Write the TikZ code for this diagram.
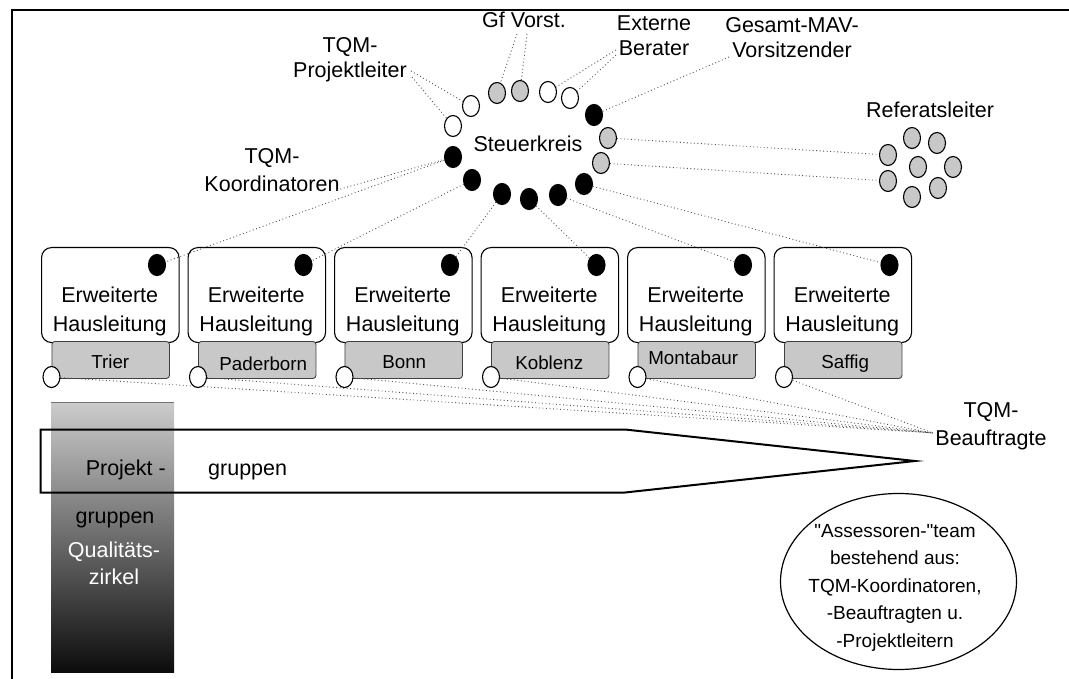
\documentclass[tikz,border=0pt]{standalone}
\usepackage{fontspec}
\setmainfont{Liberation Sans}
\newfontfamily\plainq{Liberation Sans}
\usetikzlibrary{shapes.geometric}
\definecolor{lgray}{RGB}{200,200,200}
\definecolor{dotline}{RGB}{80,80,80}
\definecolor{coltop}{RGB}{204,204,204}
\definecolor{colbot}{RGB}{12,12,12}
\newcommand{\sq}{{\plainq"}}
\begin{document}
\begin{tikzpicture}[x=1pt,y=-1pt,
  dotw/.style={ellipse,draw=black,line width=1.1pt,minimum width=17pt,minimum height=21pt,inner sep=0pt},
  wdot/.style={dotw,fill=white},
  gdot/.style={dotw,fill=lgray},
  bdot/.style={dotw,fill=black},
  lab/.style={font=\fontsize{21.5}{26}\selectfont,inner sep=0pt,anchor=base,align=center},
  conn/.style={draw=dotline,line width=0.9pt,dash pattern=on 0.9pt off 2.6pt},
  hbox/.style={draw=black,line width=1.1pt,rounded corners=10pt,fill=white,inner sep=0pt},
  locbox/.style={draw=black!75,line width=0.9pt,rounded corners=3pt,fill=lgray,inner sep=0pt},
  locfont/.style={font=\fontsize{18.8}{22}\selectfont,inner sep=0pt,anchor=base},
  frame/.style={line width=2.5pt,draw=black},
]
\useasboundingbox (0,0) rectangle (1069,679);
% frame
\draw[frame] (12,679) -- (12,10) -- (1069,10);

% left column with gradient
\shade[top color=coltop,bottom color=colbot] (51,402) rectangle (174,672);
\draw[black!55,line width=0.6pt] (51,402.3) -- (174,402.3);

% pentagon arrow
\draw[line width=2pt] (40.7,429.5) -- (625,429.5) -- (915,461) -- (625,492.5) -- (40.7,492.5) -- cycle;
\node[lab,anchor=base east] (pj1) at (166,475) {Projekt -};
\node[lab,anchor=base west] (pj2) at (208,475) {gruppen};
\node[lab] (pj3) at (115,523) {gruppen};
% multi-line nodes: anchor=base is the baseline of the LAST line
\node[lab,text=white,font=\fontsize{21.5}{27}\selectfont] (qz) at (114,584) {Qualitäts-\\zirkel};

% Steuerkreis ring
\node[lab] (sk) at (528,151.5) {Steuerkreis};
\node[wdot] (r1) at (453,126) {};
\node[wdot] (r2) at (471,106) {};
\node[gdot] (r3) at (497,93) {};
\node[gdot] (r4) at (520,91) {};
\node[wdot] (r5) at (548,92) {};
\node[wdot] (r6) at (570,98) {};
\node[bdot] (r7) at (594,115) {};
\node[gdot] (r8) at (608,138) {};
\node[gdot] (r9) at (601,163) {};
\node[bdot] (r10) at (584,184) {};
\node[bdot] (r11) at (558,195) {};
\node[bdot] (r12) at (529,199) {};
\node[bdot] (r13) at (502,194) {};
\node[bdot] (r14) at (472,180) {};
\node[bdot] (r15) at (453,157) {};

% Referatsleiter cluster
\node[lab] (lref) at (930,118) {Referatsleiter};
\node[gdot] (f1) at (888,155) {};
\node[gdot] (f2) at (912,138) {};
\node[gdot] (f3) at (937,143) {};
\node[gdot] (f4) at (918,167) {};
\node[gdot] (f5) at (953,167) {};
\node[gdot] (f6) at (888,181) {};
\node[gdot] (f7) at (938,188) {};
\node[gdot] (f8) at (912,197) {};

% top labels
\node[lab,font=\fontsize{21.5}{25}\selectfont] (lpl) at (350,78) {TQM-\\Projektleiter};
\node[lab] (lgf) at (524,28) {Gf Vorst.};
\node[lab,font=\fontsize{21.5}{25}\selectfont] (lex) at (654,56) {Externe\\Berater};
\node[lab,font=\fontsize{21.5}{25}\selectfont] (lmav) at (792,58) {Gesamt-MAV-\\Vorsitzender};
\node[lab,font=\fontsize{21.5}{28}\selectfont] (lko) at (272,192) {TQM-\\Koordinatoren};
\node[lab,font=\fontsize{21.5}{28}\selectfont] (lbe) at (991,445) {TQM-\\Beauftragte};

\coordinate (plA) at (411,71);
\coordinate (plB) at (412,77);
\coordinate (gfA) at (517,34);
\coordinate (gfB) at (527,34);
\coordinate (exA) at (616,50);
\coordinate (exB) at (616,55);
\coordinate (mavA) at (729,57);
\coordinate (koA) at (337,190);
\coordinate (conv) at (933,433);

% houses
\foreach \i/\nm/\dx/\by in {1/Trier/0.5/368,2/Paderborn/7/370,3/Bonn/1.5/368,4/Koblenz/0/369,5/Montabaur/-2.5/364,6/Saffig/3/368}{
  \pgfmathsetmacro\L{41+146.5*(\i-1)}
  \node[hbox,anchor=north west,minimum width=137.5pt,minimum height=95pt] (hl\i) at (\L,247) {};
  \node[lab,font=\fontsize{21.5}{29}\selectfont] (ht\i) at (\L+68.75,331) {Erweiterte\\Hausleitung};
  \node[locbox,anchor=north west,minimum width=117.5pt,minimum height=37pt] (lb\i) at (\L+10.5,341) {};
  \node[locfont] (lt\i) at (\L+68.75+\dx,\by) {\nm};
  \node[bdot] (hd\i) at (\L+116,265) {};
  \node[wdot] (od\i) at (\L+10.5,377) {};
  \draw[conn] (od\i) -- (conv);
}

% connectors
\draw[conn] (plA) -- (r2);
\draw[conn] (plB) -- (r1);
\draw[conn] (gfA) -- (r3);
\draw[conn] (gfB) -- (r4);
\draw[conn] (exA) -- (r5);
\draw[conn] (exB) -- (r6);
\draw[conn] (mavA) -- (r7);
\draw[conn] (r8) -- (f1);
\draw[conn] (r9) -- (f6);
\draw[conn] (koA) -- (r15);
\draw[conn] (r15) -- (hd1);
\draw[conn] (r14) -- (hd2);
\draw[conn] (r13) -- (hd3);
\draw[conn] (r12) -- (hd4);
\draw[conn] (r11) -- (hd5);
\draw[conn] (r10) -- (hd6);

% assessoren ellipse
\node[draw=black,ellipse,line width=1.2pt,minimum width=236pt,minimum height=176pt,inner sep=0pt] (ass) at (898.5,581.5) {};
\node[lab,font=\fontsize{19}{27.5}\selectfont] (asst) at (895,647) {\sq Assessoren-\sq team\\bestehend aus:\\TQM-Koordinatoren,\\-Beauftragten u.\\-Projektleitern};
\end{tikzpicture}
\end{document}
